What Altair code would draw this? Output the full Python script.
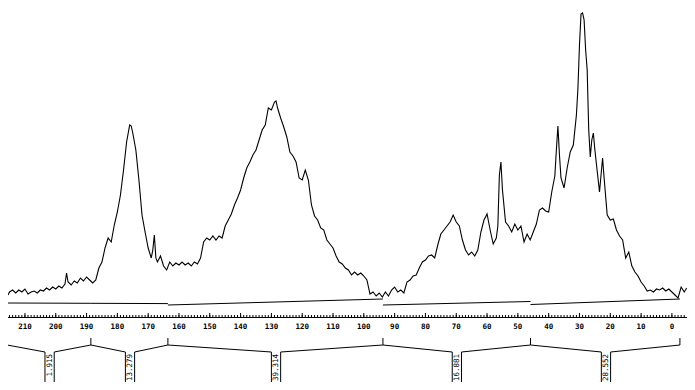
import altair as alt
import pandas as pd

# ---- spectrum trace (ppm, intensity) ----
ppm = [215.5, 215, 214, 213, 212, 211, 210, 209, 208, 207, 206, 205, 204, 203, 202, 201, 200,
       199, 198, 197, 196.5, 196, 195, 194, 193, 192, 191, 190, 189, 188, 187, 186, 185, 184,
       183, 182, 181, 180, 179, 178, 177, 176, 175.5, 175, 174, 173, 172, 171, 170, 169, 168.5,
       168, 167.5, 167, 166, 165, 164, 163, 162, 161, 160, 159, 158, 157, 156, 155, 154, 153,
       152, 151, 150, 149, 148, 147, 146, 145, 144, 143, 142, 141, 140, 139, 138, 137, 136,
       135, 134, 133, 132, 131, 130, 129, 128.5, 128, 127, 126, 125, 124, 123, 122, 121, 120,
       119, 118, 117, 116, 115, 114, 113, 112, 111, 110, 109, 108, 107, 106, 105, 104, 103,
       102, 101, 100, 99, 98, 97, 96, 95, 94, 93, 92, 91, 90, 89, 88, 87, 86, 85, 84, 83, 82,
       81, 80, 79, 78, 77, 76, 75, 74, 73, 72, 71, 70, 69, 68, 67, 66, 65, 64, 63, 62, 61, 60,
       59, 58, 57, 56.5, 56, 55.5, 55, 54, 53, 52, 51, 50, 49, 48, 47, 46, 45, 44, 43, 42, 41,
       40, 39, 38, 37.5, 37, 36.5, 36, 35, 34, 33, 32, 31, 30.5, 30, 29.5, 29, 28.5, 28, 27.5,
       27, 26.5, 26, 25.5, 25, 24, 23.5, 23, 22.5, 22, 21, 20, 19, 18, 17, 16, 15, 14, 13, 12,
       11, 10, 9, 8, 7, 6, 5, 4, 3, 2, 1, 0, -1, -2, -3, -4, -4.8]
intensity = [22, 25, 27, 24, 27, 25, 28, 23, 25, 26, 24, 27, 26, 29, 27, 30, 28,
             31, 29, 33, 44, 35, 32, 36, 34, 39, 36, 40, 37, 34, 37, 49, 55, 69,
             79, 75, 92, 105, 122, 147, 175, 192, 191, 184, 167, 137, 102, 85, 69, 59, 67,
             82, 59, 55, 61, 51, 47, 55, 51, 54, 52, 55, 52, 54, 51, 55, 53, 59,
             75, 79, 77, 81, 77, 81, 79, 91, 97, 103, 112, 119, 127, 139, 149, 155, 162,
             167, 177, 187, 192, 209, 207, 215, 216, 209, 199, 190, 180, 165, 161, 155, 139, 137,
             147, 137, 112, 101, 97, 89, 87, 77, 73, 69, 61, 55, 53, 49, 47, 42, 45,
             42, 44, 41, 37, 23, 25, 21, 24, 20, 25, 21, 27, 30, 25, 27, 24, 35, 37, 41, 42, 49,
             55, 57, 61, 62, 59, 72, 83, 87, 91, 95, 102, 95, 91, 77, 67, 62, 65, 61, 67, 85, 97, 103,
             87, 73, 79, 91, 142, 155, 127, 95, 91, 85, 93, 87, 91, 75, 83, 77, 85, 93, 107, 109, 106,
             105, 125, 141, 167, 191, 162, 139, 129, 149, 165, 172, 202, 229, 272, 303, 304, 297, 267, 247,
             187, 160, 177, 184, 167, 139, 125, 142, 159, 139, 102, 97, 98, 87, 81, 77, 59, 65, 51, 45,
             41, 35, 31, 26, 27, 25, 28, 27, 29, 26, 28, 25, 22, 19, 30, 25, 29]

# ---- integral baselines (one per region) ----
seg_start = [215.5, 188.6, 163.6, 93.8, 45.9]
seg_end = [188.6, 163.6, 93.8, 45.9, -2.6]
seg_y_start = [14, 13.7, 12, 12, 12.5]
seg_y_end = [13.7, 13.4, 18, 15.5, 18]

# ---- integration regions ----
region_left = [215.8, 188.6, 163.6, 93.8, 45.9]
region_right = [188.6, 163.6, 93.8, 45.9, -2.6]
region_label_ppm = [202.0, 175.9, 128.5, 69.8, 21.4]
region_labels = ["1.915", "13.279", "39.314", "16.881", "28.552"]

# ---- axis ticks ----
major_ticks = [210, 200, 190, 180, 170, 160, 150, 140, 130, 120, 110, 100, 90, 80, 70, 60, 50, 40, 30, 20, 10, 0]
minor_ticks = list(range(-4, 216))

# layout constants (pixels inside plot group)
W, H = 679, 374
AXIS_Y = 309
BOX_HALF = 1.5  # ppm half width of label box
MONO = "DejaVu Sans Mono"

spec_df = pd.DataFrame({"ppm": ppm, "I": intensity, "idx": range(len(ppm))})
seg_df = pd.DataFrame({"x": seg_start, "x2": seg_end, "y": seg_y_start, "y2": seg_y_end})
reg_df = pd.DataFrame({"left": region_left, "right": region_right,
                       "c": region_label_ppm, "label": region_labels})
reg_df["bl"] = reg_df["c"] + BOX_HALF
reg_df["br"] = reg_df["c"] - BOX_HALF
bounds_df = pd.DataFrame({"b": sorted(set(region_left + region_right), reverse=True)})
major_df = pd.DataFrame({"t": major_ticks, "lab": [str(t) for t in major_ticks]})
minor_df = pd.DataFrame({"t": minor_ticks})

xs = alt.Scale(domain=[215.5, -4.9], nice=False, zero=False)
ys = alt.Scale(domain=[-65, 309], nice=False, zero=False)

spectrum = alt.Chart(spec_df).mark_line(color="black", strokeWidth=1.1).encode(
    x=alt.X("ppm:Q", scale=xs, axis=None),
    y=alt.Y("I:Q", scale=ys, axis=None),
    order=alt.Order("idx:Q"),
)

baselines = alt.Chart(seg_df).mark_rule(color="black", strokeWidth=1).encode(
    x=alt.X("x:Q", scale=xs, axis=None),
    x2="x2:Q",
    y=alt.Y("y:Q", scale=ys, axis=None),
    y2="y2:Q",
)

axis_line = alt.Chart(minor_df).mark_rule(color="black", strokeWidth=1).encode(
    x=alt.value(0), x2=alt.value(W), y=alt.value(AXIS_Y + 0.5),
)

minors = alt.Chart(minor_df).mark_rule(color="black", strokeWidth=1).encode(
    x=alt.X("t:Q", scale=xs, axis=None),
    y=alt.value(AXIS_Y - 2),
    y2=alt.value(AXIS_Y),
)

majors = alt.Chart(major_df).mark_rule(color="black", strokeWidth=1).encode(
    x=alt.X("t:Q", scale=xs, axis=None),
    y=alt.value(AXIS_Y - 4),
    y2=alt.value(AXIS_Y),
)

tick_labels = alt.Chart(major_df).mark_text(font=MONO, fontSize=7.5, fontWeight="bold",
                                            color="black", baseline="middle", align="center").encode(
    x=alt.X("t:Q", scale=xs, axis=None),
    y=alt.value(AXIS_Y + 10),
    text="lab:N",
)

bound_ticks = alt.Chart(bounds_df).mark_rule(color="black", strokeWidth=1).encode(
    x=alt.X("b:Q", scale=xs, axis=None),
    y=alt.value(330),
    y2=alt.value(337),
)

left_lines = alt.Chart(reg_df).mark_rule(color="black", strokeWidth=1).encode(
    x=alt.X("left:Q", scale=xs, axis=None), x2="bl:Q",
    y=alt.value(337), y2=alt.value(344),
)
right_lines = alt.Chart(reg_df).mark_rule(color="black", strokeWidth=1).encode(
    x=alt.X("br:Q", scale=xs, axis=None), x2="right:Q",
    y=alt.value(344), y2=alt.value(337),
)
box_l = alt.Chart(reg_df).mark_rule(color="black", strokeWidth=1).encode(
    x=alt.X("bl:Q", scale=xs, axis=None), y=alt.value(344), y2=alt.value(H),
)
box_r = alt.Chart(reg_df).mark_rule(color="black", strokeWidth=1).encode(
    x=alt.X("br:Q", scale=xs, axis=None), y=alt.value(344), y2=alt.value(H),
)
labels = alt.Chart(reg_df).mark_text(angle=270, align="right", baseline="middle",
                                     font=MONO, fontSize=7.5, color="black").encode(
    x=alt.X("c:Q", scale=xs, axis=None),
    y=alt.value(346),
    text="label:N",
)

chart = alt.layer(spectrum, baselines, axis_line, minors, majors, tick_labels, bound_ticks,
                  left_lines, right_lines, box_l, box_r, labels).properties(
    width=W, height=H, padding=0, autosize="none", background="white"
).configure_view(strokeWidth=0)

chart.save("out.html", embed_options={"renderer": "svg", "actions": False})
